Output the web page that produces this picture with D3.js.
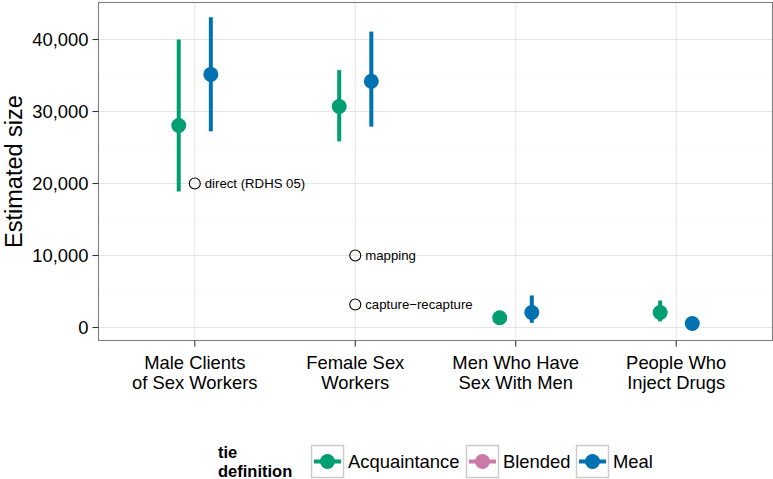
<!DOCTYPE html>
<html>
<head>
<meta charset="utf-8">
<script src="https://cdn.jsdelivr.net/npm/d3@7"></script>
<style>
  html, body { margin: 0; padding: 0; background: #fff; }
  svg { display: block; font-family: "Liberation Sans", Arial, sans-serif; }
</style>
</head>
<body>
<svg id="chart" width="773" height="479"></svg>
<script>
// Population groups along the x axis (two-line labels)
const groups = ["mcsw", "fsw", "msm", "pwid"];
const groupLabels = [
  ["Male Clients", "of Sex Workers"],
  ["Female Sex", "Workers"],
  ["Men Who Have", "Sex With Men"],
  ["People Who", "Inject Drugs"]
];

// Tie definitions (legend order) and colours
const tieDefs = ["Acquaintance", "Blended", "Meal"];
const tieColors = ["#009E73", "#CC79A7", "#0072B2"];

// Estimates per group and tie definition: point, lower, upper
const estGroup = ["mcsw", "mcsw", "fsw", "fsw", "msm", "msm", "pwid", "pwid"];
const estTie   = ["Acquaintance", "Meal", "Acquaintance", "Meal", "Acquaintance", "Meal", "Acquaintance", "Meal"];
const estValue = [28050, 35150, 30700, 34200, 1350, 2080, 2080, 560];
const estLower = [18900, 27250, 25850, 27900, 1350, 650, 850, 560];
const estUpper = [40000, 43100, 35750, 41100, 1350, 4450, 3750, 560];

// Other published estimates (hollow markers)
const refGroup = ["mcsw", "fsw", "fsw"];
const refValue = [20000, 10000, 3200];
const refLabel = ["direct (RDHS 05)", "mapping", "capture\u2212recapture"];

// Axis ticks
const yTicks = [0, 10000, 20000, 30000, 40000];

const svg = d3.select("#chart");
const panel = { left: 98.5, right: 772.5, top: 2.5, bottom: 340.5 };

// discrete x positions with 0.6 expansion either side
const x = d3.scalePoint()
  .domain(groups)
  .range([panel.left, panel.right])
  .padding(0.6);
const step = x.step();

const dodge = d3.scalePoint().domain(tieDefs).range([-0.1 * step, 0.1 * step]);

const y = d3.scaleLinear()
  .domain([-1806, 45139])
  .range([panel.bottom, panel.top]);

const color = d3.scaleOrdinal().domain(tieDefs).range(tieColors);

// Minor grid
const minor = [5000, 15000, 25000, 35000];
svg.append("g").selectAll("line").data(minor).join("line")
  .attr("x1", panel.left).attr("x2", panel.right)
  .attr("y1", d => y(d)).attr("y2", d => y(d))
  .attr("stroke", "#fafafa").attr("stroke-width", 0.6);

// Major grid
svg.append("g").selectAll("line").data(yTicks).join("line")
  .attr("x1", panel.left).attr("x2", panel.right)
  .attr("y1", d => y(d)).attr("y2", d => y(d))
  .attr("stroke", "#e5e5e5").attr("stroke-width", 1);
svg.append("g").selectAll("line").data(groups).join("line")
  .attr("x1", d => x(d)).attr("x2", d => x(d))
  .attr("y1", panel.top).attr("y2", panel.bottom)
  .attr("stroke", "#e5e5e5").attr("stroke-width", 1);

// Reference estimates: hollow circles with labels
const refs = refGroup.map((g, i) => ({ g, v: refValue[i], label: refLabel[i] }));
svg.append("g").selectAll("circle").data(refs).join("circle")
  .attr("cx", d => x(d.g)).attr("cy", d => y(d.v))
  .attr("r", 5.5).attr("fill", "none").attr("stroke", "#000").attr("stroke-width", 1.1);
svg.append("g").selectAll("text").data(refs).join("text")
  .attr("x", d => x(d.g) + 10).attr("y", d => y(d.v))
  .attr("dy", "0.36em")
  .attr("font-size", 13.2).attr("fill", "#000")
  .text(d => d.label);

// Estimates: ranges and points
const ests = estGroup.map((g, i) => ({
  g, tie: estTie[i], v: estValue[i], lo: estLower[i], hi: estUpper[i]
}));
const gEst = svg.append("g");
gEst.selectAll("line").data(ests).join("line")
  .attr("x1", d => x(d.g) + dodge(d.tie)).attr("x2", d => x(d.g) + dodge(d.tie))
  .attr("y1", d => y(d.lo)).attr("y2", d => y(d.hi))
  .attr("stroke", d => color(d.tie)).attr("stroke-width", 4);
gEst.selectAll("circle").data(ests).join("circle")
  .attr("cx", d => x(d.g) + dodge(d.tie)).attr("cy", d => y(d.v))
  .attr("r", 7.5).attr("fill", d => color(d.tie));

// Panel border
svg.append("rect")
  .attr("x", panel.left).attr("y", panel.top)
  .attr("width", panel.right - panel.left).attr("height", panel.bottom - panel.top)
  .attr("fill", "none").attr("stroke", "#7f7f7f").attr("stroke-width", 1.1);

// Y axis
const yAxis = svg.append("g");
yAxis.selectAll("line").data(yTicks).join("line")
  .attr("x1", panel.left - 6).attr("x2", panel.left)
  .attr("y1", d => y(d)).attr("y2", d => y(d))
  .attr("stroke", "#333").attr("stroke-width", 1.1);
yAxis.selectAll("text").data(yTicks).join("text")
  .attr("x", panel.left - 10).attr("y", d => y(d)).attr("dy", "0.36em")
  .attr("text-anchor", "end").attr("font-size", 18.4).attr("fill", "#000")
  .text(d => d3.format(",")(d));

svg.append("text")
  .attr("transform", `translate(22,${(panel.top + panel.bottom) / 2}) rotate(-90)`)
  .attr("text-anchor", "middle").attr("font-size", 23.5).attr("fill", "#000")
  .text("Estimated size");

// X axis
const xAxis = svg.append("g");
xAxis.selectAll("line").data(groups).join("line")
  .attr("x1", d => x(d)).attr("x2", d => x(d))
  .attr("y1", panel.bottom).attr("y2", panel.bottom + 6)
  .attr("stroke", "#333").attr("stroke-width", 1.1);
const xl = xAxis.selectAll("text").data(groups).join("text")
  .attr("text-anchor", "middle").attr("font-size", 18.4).attr("fill", "#000");
xl.each(function(d, i) {
  const t = d3.select(this);
  groupLabels[i].forEach((line, k) => {
    t.append("tspan").attr("x", x(d)).attr("y", 369 + k * 19.5).text(line);
  });
});

// Legend
const leg = svg.append("g");
leg.append("text").attr("x", 218).attr("y", 457.5).attr("font-size", 16.5)
  .attr("font-weight", "bold").text("tie");
leg.append("text").attr("x", 218).attr("y", 476.8).attr("font-size", 16.5)
  .attr("font-weight", "bold").text("definition");

const keyX = [311, 466, 576];
const labelX = [348, 503, 613];
tieDefs.forEach((t, i) => {
  const kg = leg.append("g").attr("transform", `translate(${keyX[i]},445)`);
  kg.append("rect").attr("x", 0.5).attr("y", 0.5).attr("width", 32).attr("height", 32)
    .attr("fill", "#fff").attr("stroke", "#cccccc").attr("stroke-width", 1.5);
  kg.append("line").attr("x1", 3).attr("x2", 30).attr("y1", 16.5).attr("y2", 16.5)
    .attr("stroke", color(t)).attr("stroke-width", 4);
  kg.append("circle").attr("cx", 16.5).attr("cy", 16.5).attr("r", 7.5).attr("fill", color(t));
  leg.append("text").attr("x", labelX[i]).attr("y", 461.5).attr("dy", "0.36em")
    .attr("font-size", 18.4).attr("fill", "#000").text(t);
});
</script>
</body>
</html>
